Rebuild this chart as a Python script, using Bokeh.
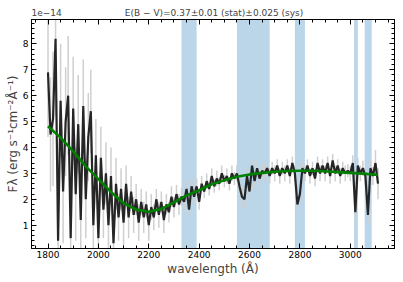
from bokeh.plotting import figure
from bokeh.models import FixedTicker, LinearAxis, BoxAnnotation, Range1d
from bokeh.embed import file_html
from bokeh.resources import INLINE

# ---- data (flux in units of 1e-14 erg s^-1 cm^-2 A^-1) ----
wavelength = list(range(1800, 3111, 10))
flux = [
    6.9, 4.5, 5.1, 8.2, 0.4, 5.8, 2.3, 5.0, 6.0, 0.5,
    5.5, 2.2, 4.9, 1.2, 5.6, 2.0, 4.4, 5.4, 1.0, 3.7,
    0.5, 3.6, 1.6, 3.0, 1.0, 2.9, 0.3, 2.6, 1.3, 2.4,
    1.1, 2.6, 1.3, 2.3, 1.4, 2.0, 1.1, 1.9, 1.3, 1.8,
    1.0, 1.7, 1.3, 2.0, 1.4, 1.9, 1.2, 1.8, 1.5, 2.1,
    1.7, 2.2, 1.8, 2.1, 1.9, 2.4, 1.6, 2.5, 2.1, 2.5,
    1.9, 2.6, 2.3, 2.7, 2.4, 2.9, 2.5, 2.8, 2.6, 3.0,
    2.7, 2.9, 2.6, 3.0, 2.8, 3.0, 2.5, 2.1, 2.0, 2.9,
    2.3, 3.3, 2.7, 3.2, 2.8, 3.1, 3.0, 3.2, 2.9, 3.2,
    3.0, 3.3, 2.9, 3.2, 3.0, 3.3, 2.9, 3.4, 3.0, 1.8,
    2.2, 3.2, 3.0, 3.3, 2.9, 3.2, 2.8, 3.4, 3.0, 3.3,
    3.0, 3.4, 2.9, 3.5, 3.0, 3.3, 2.9, 3.2, 3.0, 3.1,
    3.0, 3.4, 1.5, 3.3, 3.0, 3.2, 2.9, 1.4, 3.2, 2.9,
    3.4, 2.6,
]
flux_err = [
    2.5, 2.2, 2.6, 3.0, 2.0, 2.2, 2.0, 2.1, 2.3, 2.0,
    2.0, 1.8, 1.9, 1.6, 1.8, 1.5, 1.7, 1.6, 1.5, 1.4,
    1.3, 1.2, 1.1, 1.2, 1.0, 1.1, 0.9, 1.0, 0.9, 0.8,
    0.9, 0.7, 0.8, 0.6, 0.7, 0.6, 0.7, 0.5, 0.6, 0.5,
    0.6, 0.5, 0.5, 0.4, 0.5, 0.4, 0.5, 0.4, 0.4, 0.4,
    0.4, 0.35, 0.4, 0.35, 0.3, 0.35, 0.3, 0.35, 0.3, 0.3,
    0.3, 0.3, 0.25, 0.3, 0.25, 0.3, 0.25, 0.3, 0.25, 0.3,
    0.25, 0.3, 0.25, 0.3, 0.25, 0.3, 0.3, 0.35, 0.35, 0.3,
    0.3, 0.25, 0.3, 0.25, 0.3, 0.25, 0.3, 0.25, 0.3, 0.25,
    0.3, 0.25, 0.3, 0.25, 0.3, 0.25, 0.3, 0.25, 0.3, 0.35,
    0.3, 0.25, 0.3, 0.25, 0.3, 0.25, 0.3, 0.25, 0.3, 0.25,
    0.3, 0.25, 0.3, 0.25, 0.3, 0.25, 0.3, 0.25, 0.3, 0.25,
    0.3, 0.3, 0.35, 0.3, 0.3, 0.3, 0.3, 0.35, 0.3, 0.35,
    0.5, 0.6,
]
fit_wavelength = [1800, 1850, 1900, 1950, 2000, 2050, 2100, 2150, 2200, 2250,
                  2300, 2350, 2400, 2450, 2500, 2550, 2600, 2650, 2700, 2750,
                  2800, 2850, 2900, 2950, 3000, 3050, 3100, 3110]
fit_flux = [4.82, 4.38, 3.85, 3.27, 2.78, 2.28, 1.85, 1.60, 1.52, 1.63,
            1.88, 2.15, 2.35, 2.58, 2.73, 2.87, 2.96, 3.02, 3.06, 3.09,
            3.10, 3.10, 3.08, 3.05, 3.02, 2.99, 2.95, 2.94]
mask_start = [2330, 2550, 2780, 3015, 3057]
mask_end = [2390, 2680, 2820, 3030, 3085]
x_ticks = [1800, 2000, 2200, 2400, 2600, 2800, 3000]
x_minor = [1750, 1850, 1900, 1950, 2050, 2100, 2150, 2250, 2300, 2350, 2450, 2500,
           2550, 2650, 2700, 2750, 2850, 2900, 2950, 3050, 3100, 3150]
y_ticks = [1, 2, 3, 4, 5, 6, 7, 8]
y_minor = [0.2, 0.4, 0.6, 0.8, 1.2, 1.4, 1.6, 1.8, 2.2, 2.4, 2.6, 2.8, 3.2, 3.4, 3.6, 3.8,
           4.2, 4.4, 4.6, 4.8, 5.2, 5.4, 5.6, 5.8, 6.2, 6.4, 6.6, 6.8, 7.2, 7.4, 7.6, 7.8,
           8.2, 8.4, 8.6, 8.8]
offset_text = "1e\u221214"
title_text = "E(B \u2212 V)=0.37\u00b10.01 (stat)\u00b10.025 (sys)"
x_label = "wavelength (\u00c5)"
y_label = "F\u03bb (erg s\u207b\u00b9cm\u207b\u00b2\u00c5\u207b\u00b9)"

FONT = "DejaVu Sans"

p = figure(width=400, height=280, output_backend="svg", toolbar_location=None,
           x_range=Range1d(1734.5, 3175.5), y_range=Range1d(0.1, 8.94),
           min_border_left=31, min_border_right=6, min_border_top=19, min_border_bottom=32,
           background_fill_color="white", border_fill_color="white")

p.title.text = offset_text + "\u2003" * 7 + title_text
p.title.align = "left"
p.title.text_font = FONT
p.title.text_font_size = "9px"
p.title.text_font_style = "normal"
p.title.standoff = 4

p.xgrid.visible = False
p.ygrid.visible = False
p.outline_line_color = "black"
p.outline_line_width = 1
p.outline_line_alpha = 1

for s, e in zip(mask_start, mask_end):
    p.add_layout(BoxAnnotation(left=s, right=e, fill_color="#1f77b4", fill_alpha=0.3,
                               line_alpha=0, level="underlay"))

lo = [f - e for f, e in zip(flux, flux_err)]
hi = [f + e for f, e in zip(flux, flux_err)]
p.segment(x0=wavelength, y0=lo, x1=wavelength, y1=hi, line_color="#cfcfcf", line_width=1.5)
p.line(wavelength, flux, line_color="#262626", line_width=2.2)
p.line(fit_wavelength, fit_flux, line_color="#008000", line_width=2.6)


def style_axis(ax):
    ax.axis_line_color = "black"
    ax.major_tick_in = 5
    ax.major_tick_out = 0
    ax.minor_tick_in = 3
    ax.minor_tick_out = 0
    ax.major_tick_line_color = "black"
    ax.minor_tick_line_color = "black"
    ax.major_label_text_font = FONT
    ax.major_label_text_font_size = "9px"
    ax.major_label_text_color = "black"


p.xaxis.ticker = FixedTicker(ticks=x_ticks, minor_ticks=x_minor)
p.yaxis.ticker = FixedTicker(ticks=y_ticks, minor_ticks=y_minor)
style_axis(p.xaxis[0])
style_axis(p.yaxis[0])
p.xaxis.major_label_standoff = 2
p.yaxis.major_label_standoff = 3
p.xaxis.axis_label = x_label
p.xaxis.axis_label_text_font = FONT
p.xaxis.axis_label_text_font_size = "12px"
p.xaxis.axis_label_text_font_style = "normal"
p.xaxis.axis_label_standoff = 1
p.yaxis.axis_label = y_label
p.yaxis.axis_label_text_font = FONT
p.yaxis.axis_label_text_font_size = "12px"
p.yaxis.axis_label_text_font_style = "normal"
p.yaxis.axis_label_standoff = 0


# mirrored tick marks on top and right (tick marks only, no labels)
def tick_only_axis(major, minor_len, side):
    ax = LinearAxis(ticker=FixedTicker(ticks=[], minor_ticks=major))
    ax.axis_line_color = "black"
    ax.major_tick_in = 0
    ax.major_tick_out = 0
    ax.minor_tick_in = minor_len
    ax.minor_tick_out = 0
    ax.minor_tick_line_color = "black"
    ax.major_label_standoff = 0
    p.add_layout(ax, side)


tick_only_axis(x_ticks, 5, "above")
tick_only_axis(x_minor, 3, "above")
tick_only_axis(y_ticks, 5, "right")
tick_only_axis(y_minor, 3, "right")

open("out.html", "w").write(file_html(p, INLINE))
